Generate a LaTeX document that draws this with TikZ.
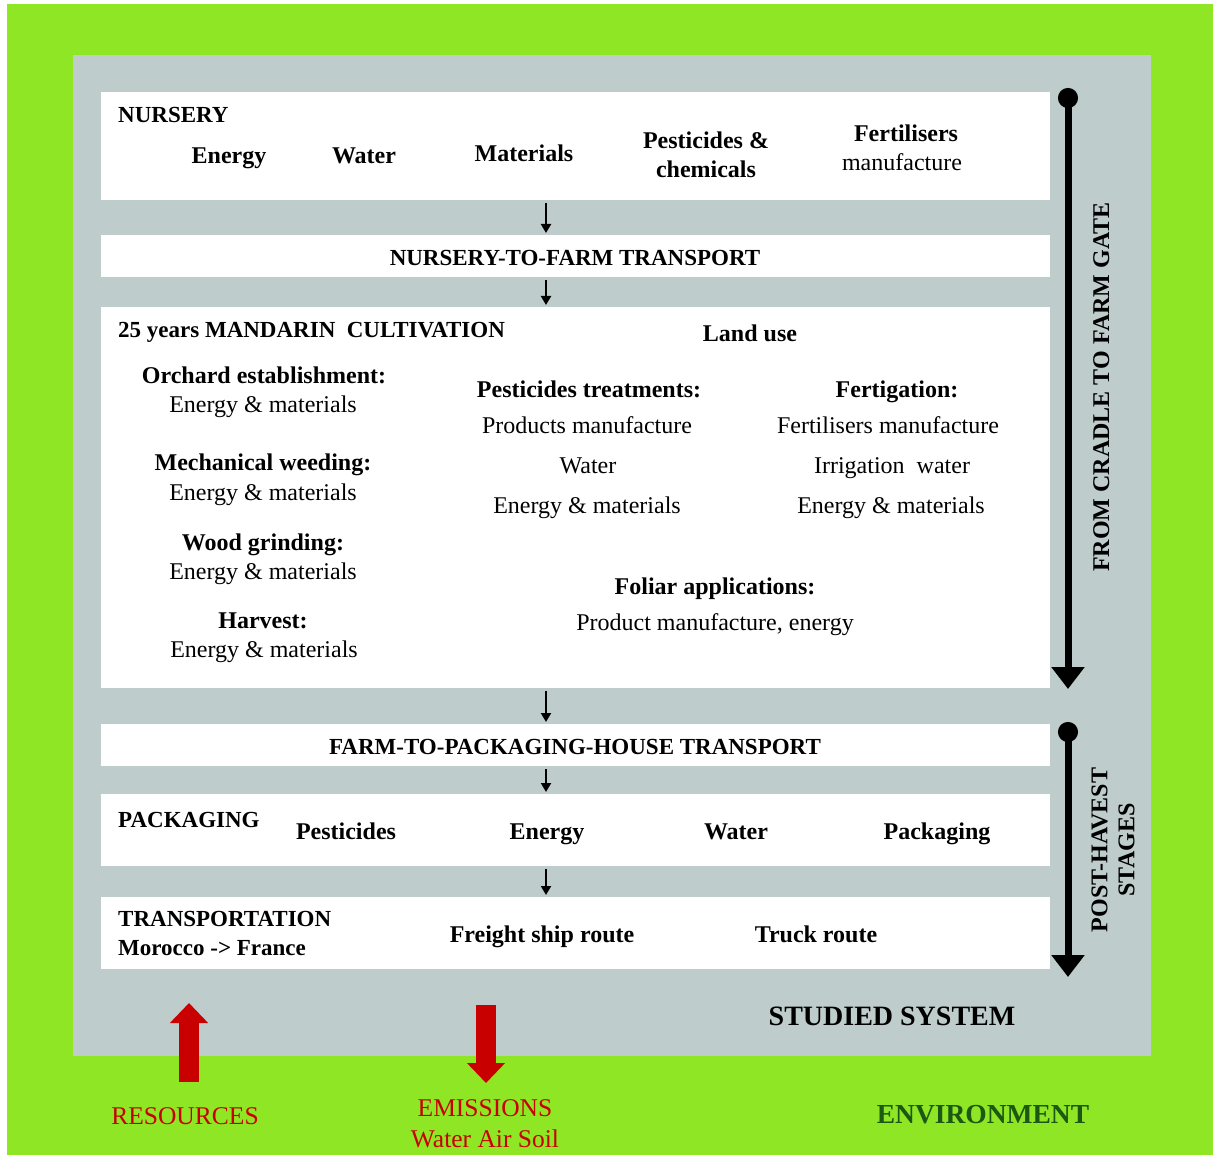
\documentclass[tikz,border=0pt]{standalone}
\usepackage{fontspec}
\setmainfont{Liberation Serif}
\usepackage{xcolor}
\usepackage{tikz}
\usetikzlibrary{arrows.meta, positioning, calc}
\definecolor{envgreen}{RGB}{143,230,37}
\definecolor{sysgray}{RGB}{191,204,204}
\definecolor{flowred}{RGB}{200,0,0}
\definecolor{envtext}{RGB}{28,88,18}
\tikzstyle{stagebox} = [rectangle, fill=white, minimum width=949pt, inner sep=0pt, anchor=north west]
\tikzstyle{head} = [font=\fontsize{23}{29}\selectfont\bfseries, inner sep=0pt, text height=20pt, text depth=2pt]
\tikzstyle{item} = [font=\fontsize{24}{29}\selectfont\bfseries, inner sep=0pt, align=center, text height=20pt, text depth=2pt]
\tikzstyle{detail} = [font=\fontsize{24}{29}\selectfont, inner sep=0pt, align=center, text height=20pt, text depth=2pt]
\tikzstyle{twolines} = [text height=, text depth=]
\tikzstyle{outlabel} = [font=\fontsize{25.5}{31}\selectfont, text=flowred, inner sep=0pt, align=center]
\tikzstyle{flowarrow} = [line width=2pt, -{Triangle[width=10pt,length=9pt]}, shorten <=3pt, shorten >=2pt]
\tikzstyle{stagearrow} = [line width=7pt, {Circle[length=20pt]}-{Triangle[width=32pt,length=22pt]}]
\tikzstyle{blockarrow} = [line width=20pt, flowred, -{Triangle[width=37pt,length=20pt]}]

\begin{document}
\begin{tikzpicture}[x=1pt, y=-1pt]
    \useasboundingbox (0,0) rectangle (1213,1155);

    % === BACKGROUND: environment and studied system ===
    \fill[white] (0,0) rectangle (1213,1155);
    \fill[envgreen] (7,4) rectangle (1213,1155);
    \fill[sysgray] (73,55) rectangle (1151,1056);

    % === STAGE BOXES ===
    \node (nurs) [stagebox, minimum height=108pt] at (101,92) {};
    \node (nftrans) [stagebox, minimum height=42pt] at (101,235) {};
    \node (cult) [stagebox, minimum height=381pt] at (101,307) {};
    \node (fptrans) [stagebox, minimum height=42pt] at (101,724) {};
    \node (pack) [stagebox, minimum height=72pt] at (101,794) {};
    \node (transp) [stagebox, minimum height=72pt] at (101,897) {};

    % Nursery
    \node (nurstitle) [head, anchor=west] at (118,114) {NURSERY};
    \node (nenergy) [item] at (229,155) {Energy};
    \node (nwater) [item] at (364,155) {Water};
    \node (nmat) [item] at (524,153) {Materials};
    \node (npest) [item, twolines] at (706,155) {Pesticides \&\\chemicals};
    \node (nfert) [item] at (906,133) {Fertilisers};
    \node (nfertman) [detail] at (902,162) {manufacture};

    % Nursery-to-farm transport
    \node (nftitle) [head] at (575,257) {NURSERY-TO-FARM TRANSPORT};

    % Mandarin cultivation
    \node (culttitle) [head, anchor=west] at (118,329) {25 years MANDARIN\ \ CULTIVATION};
    \node (landuse) [item] at (750,333) {Land use};

    \node (orch) [item] at (264,375) {Orchard establishment:};
    \node (orchem) [detail] at (263,404) {Energy \& materials};
    \node (weed) [item] at (263,462) {Mechanical weeding:};
    \node (weedem) [detail] at (263,491) {Energy \& materials};
    \node (wood) [item] at (263,541) {Wood grinding:};
    \node (woodem) [detail] at (263,570) {Energy \& materials};
    \node (harv) [item] at (263,619) {Harvest:};
    \node (harvem) [detail] at (264,648) {Energy \& materials};

    \node (pestt) [item] at (589,389) {Pesticides treatments:};
    \node (pestman) [detail] at (587,425) {Products manufacture};
    \node (pestwat) [detail] at (588,464) {Water};
    \node (pestem) [detail] at (587,504) {Energy \& materials};

    \node (ferti) [item] at (897,389) {Fertigation:};
    \node (fertman) [detail] at (888,425) {Fertilisers manufacture};
    \node (fertwat) [detail] at (892,464) {Irrigation\ \ water};
    \node (fertem) [detail] at (891,504) {Energy \& materials};

    \node (foliar) [item] at (715,585) {Foliar applications:};
    \node (foliarman) [detail] at (715,621) {Product manufacture, energy};

    % Farm-to-packaging-house transport
    \node (fptitle) [head] at (575,745) {FARM-TO-PACKAGING-HOUSE TRANSPORT};

    % Packaging
    \node (packtitle) [head, anchor=west] at (118,818) {PACKAGING};
    \node (ppest) [item] at (346,830) {Pesticides};
    \node (penergy) [item] at (547,830) {Energy};
    \node (pwater) [item] at (736,830) {Water};
    \node (ppack) [item] at (937,830) {Packaging};

    % Transportation
    \node (transptitle) [head, twolines, anchor=west, align=left] at (118,933) {TRANSPORTATION\\Morocco -> France};
    \node (ship) [item] at (542,933) {Freight ship route};
    \node (truck) [item] at (816,933) {Truck route};

    % === ARROWS BETWEEN STAGES ===
    \coordinate (arrx) at (546,0);
    \draw [flowarrow] (nurs.south -| arrx) -- (nftrans.north -| arrx);
    \draw [flowarrow] (nftrans.south -| arrx) -- (cult.north -| arrx);
    \draw [flowarrow] (cult.south -| arrx) -- (fptrans.north -| arrx);
    \draw [flowarrow] (fptrans.south -| arrx) -- (pack.north -| arrx);
    \draw [flowarrow] (pack.south -| arrx) -- (transp.north -| arrx);

    % === SYSTEM PHASES (right side) ===
    \coordinate (cradlestart) at (1068,88);
    \coordinate (cradleend) at (1068,689);
    \draw [stagearrow] (cradlestart) -- (cradleend);
    \node (cradle) [head, font=\fontsize{24}{29}\selectfont\bfseries, rotate=90] at (1100,387) {FROM CRADLE TO FARM GATE};

    \coordinate (poststart) at (1068,722);
    \coordinate (postend) at (1068,977);
    \draw [stagearrow] (poststart) -- (postend);
    \node (post) [head, twolines, font=\fontsize{24}{27}\selectfont\bfseries, rotate=90, align=center] at (1113,850) {POST-HAVEST\\STAGES};

    \node (studied) [head, font=\fontsize{28}{32}\selectfont\bfseries] at (892,1016) {STUDIED SYSTEM};

    % === EXCHANGES WITH THE ENVIRONMENT ===
    \coordinate (resbase) at (189,1082);
    \coordinate (restip) at (189,1003);
    \draw [blockarrow] (resbase) -- (restip);
    \node (resources) [outlabel] at (185,1116) {RESOURCES};

    \coordinate (emibase) at (486,1005);
    \coordinate (emitip) at (486,1083);
    \draw [blockarrow] (emibase) -- (emitip);
    \node (emissions) [outlabel] at (485,1124) {EMISSIONS\\Water Air Soil};

    \node (environ) [head, font=\fontsize{27.5}{32}\selectfont\bfseries, text=envtext] at (983,1114) {ENVIRONMENT};

\end{tikzpicture}
\end{document}
